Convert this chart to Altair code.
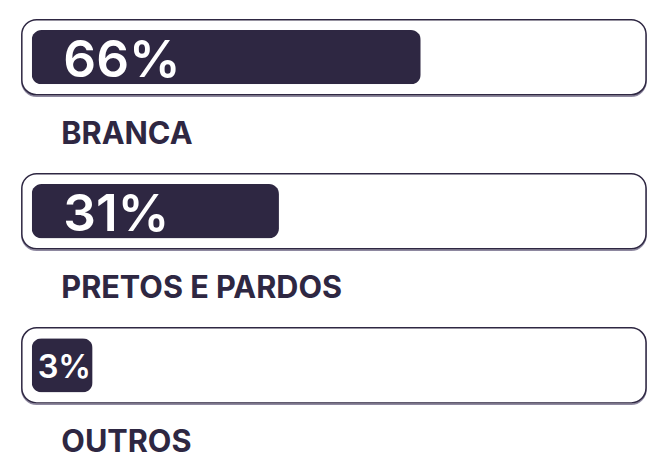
import altair as alt
import pandas as pd

categories = ["BRANCA", "PRETOS E PARDOS", "OUTROS"]
values = [66, 31, 3]
labels = ["66%", "31%", "3%"]

DARK = "#2e2742"

df = pd.DataFrame({"category": categories, "value": values, "label": labels})

y_enc = alt.Y(
    "category:N",
    sort=categories,
    scale=alt.Scale(paddingInner=0.51282, paddingOuter=0, align=0),
    axis=None,
)
x_scale = alt.Scale(type="pow", exponent=0.6, domain=[0, 100], range=[10, 515.5])

base = alt.Chart(df)

shadow = base.mark_rect(
    cornerRadius=15, fill="white", stroke="#8e88a0", strokeWidth=1.5, yOffset=1.5
).encode(y=y_enc)

track = base.mark_rect(
    cornerRadius=15, fill="white", stroke=DARK, strokeWidth=1.5
).encode(y=y_enc)

bar = base.mark_bar(cornerRadius=10, height=55, color=DARK).encode(
    x=alt.X("value:Q", scale=x_scale, axis=None),
    y=y_enc,
)

big_text = base.transform_filter("datum.value >= 10").mark_text(
    align="left", baseline="alphabetic", dx=32, dy=20,
    fontSize=52, font="Inter", fontWeight=600, color="white",
).encode(x=alt.datum(0), y=y_enc, text="label:N")

small_text = base.transform_filter("datum.value < 10").mark_text(
    align="left", baseline="alphabetic", dx=6, dy=13,
    fontSize=33, font="Inter", fontWeight=600, color="white",
).encode(x=alt.datum(0), y=y_enc, text="label:N")

cat_text = base.mark_text(
    align="left", baseline="alphabetic", dx=30, dy=87.5,
    fontSize=31, font="Inter", fontWeight=700, color=DARK,
).encode(x=alt.datum(0), y=y_enc, text="category:N")

chart = alt.layer(shadow, track, bar, big_text, small_text, cat_text).properties(
    width=632,
    height=388,
    padding={"left": 14, "top": 9, "right": 1, "bottom": 52},
    autosize="none",
    background="white",
).configure_view(stroke="transparent", strokeWidth=0)

chart.save("out.html", embed_options={"renderer": "svg", "actions": False})
